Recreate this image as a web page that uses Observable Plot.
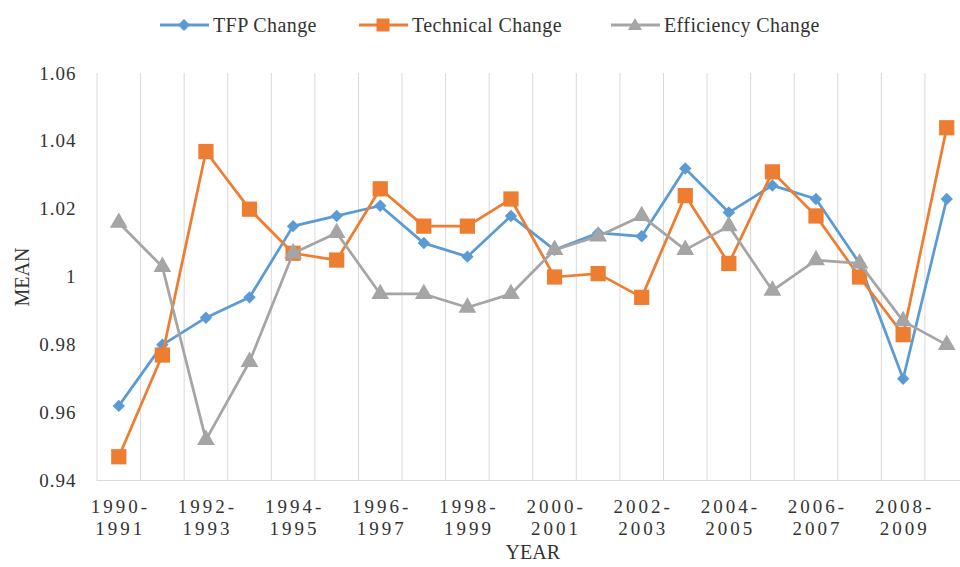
<!DOCTYPE html>
<html><head><meta charset="utf-8">
<script src="https://cdn.jsdelivr.net/npm/d3@7"></script>
<script src="https://cdn.jsdelivr.net/npm/@observablehq/plot@0.6"></script>
<style>
body{margin:0;background:#fff;font-family:"Liberation Serif",Tinos,"Times New Roman","DejaVu Serif",serif;}
#legend{position:relative;width:960px;height:48px;}
.item{position:absolute;top:1px;height:48px;display:flex;align-items:center;font-size:20px;color:#333;letter-spacing:0.4px;}
.item svg{margin-right:4px;}
svg text{font-family:"Liberation Serif",Tinos,"Times New Roman","DejaVu Serif",serif !important;}
g[aria-label="x-axis tick label"] text{letter-spacing:3px;}
g[aria-label="y-axis tick label"] text{letter-spacing:1px;}
</style></head><body>
<div id="legend"></div><div id="chart"></div>
<script>
const periods = ["1990-1991","1991-1992","1992-1993","1993-1994","1994-1995","1995-1996","1996-1997","1997-1998","1998-1999","1999-2000","2000-2001","2001-2002","2002-2003","2003-2004","2004-2005","2005-2006","2006-2007","2007-2008","2008-2009","2009-2010"];
const seriesNames = ["TFP Change","Technical Change","Efficiency Change"];
const tfpChange = [0.962,0.980,0.988,0.994,1.015,1.018,1.021,1.010,1.006,1.018,1.008,1.013,1.012,1.032,1.019,1.027,1.023,1.004,0.970,1.023];
const technicalChange = [0.947,0.977,1.037,1.020,1.007,1.005,1.026,1.015,1.015,1.023,1.000,1.001,0.994,1.024,1.004,1.031,1.018,1.000,0.983,1.044];
const efficiencyChange = [1.016,1.003,0.952,0.975,1.007,1.013,0.995,0.995,0.991,0.995,1.008,1.012,1.018,1.008,1.015,0.996,1.005,1.004,0.987,0.980];
const yTicks = [0.94,0.96,0.98,1.00,1.02,1.04,1.06];
const xTickIdx = [0,2,4,6,8,10,12,14,16,18];

const colors = ["#5B9BD5","#ED7D31","#A5A5A5"];
const symbols = ["diamond2","square","triangle"];
const radii = [5.6,8.6,6.6];
const allValues = [tfpChange, technicalChange, efficiencyChange];

const rowsOf = vals => vals.map((v,i)=>({i, v}));

const marks = [
  Plot.ruleX(d3.range(21).map(k=>k-0.5), {y1:0.94, y2:1.06, stroke:"#D9D9D9", strokeWidth:1}),
  Plot.ruleY([0.94], {x1:-0.5, x2:19.5, stroke:"#D9D9D9", strokeWidth:1}),
  Plot.axisY({ticks: yTicks, tickSize:0, tickPadding:20, fontSize:19, tickFormat: d => String(+d.toFixed(2)), label:null}),
  Plot.axisX({ticks: xTickIdx, tickSize:0, tickPadding:16, fontSize:19, lineHeight:1.2, dx:1.5, tickFormat: i => periods[i].replace("-", "-\n"), label:null}),
  Plot.text(["MEAN"], {x:-0.5, y:1.0, dx:-74.5, rotate:-90, fontSize:20, fill:"#333"}),
  Plot.text(["YEAR"], {x:9.5, y:0.94, dy:72, fontSize:20, fill:"#333"})
];
allValues.forEach((vals, s) => {
  const rows = rowsOf(vals);
  marks.push(Plot.line(rows, {x:"i", y:"v", stroke:colors[s], strokeWidth:2.75}));
  marks.push(Plot.dot(rows, {x:"i", y:"v", symbol:symbols[s], r:radii[s], fill:colors[s], stroke:"none"}));
});

const chart = Plot.plot({
  width:960, height:519,
  marginTop:25, marginBottom:87, marginLeft:96, marginRight:0,
  style:{fontFamily:"'Liberation Serif',Tinos,'Times New Roman','DejaVu Serif',serif", color:"#333", background:"white", overflow:"hidden"},
  x:{type:"linear", domain:[-0.5,19.5], range:[96.5,968]},
  y:{domain:[0.94,1.06]},
  marks
});
document.getElementById("chart").appendChild(chart);

// legend
const legendPos = [160, 359, 611];
const legend = document.getElementById("legend");
seriesNames.forEach((name, s) => {
  const div = document.createElement("div");
  div.className = "item";
  div.style.left = legendPos[s] + "px";
  let sym;
  if (s === 0) sym = `<polygon points="24,4 30,10 24,16 18,10" fill="${colors[s]}"/>`;
  else if (s === 1) sym = `<rect x="17.5" y="3.5" width="13" height="13" fill="${colors[s]}"/>`;
  else sym = `<polygon points="24,3 31,15 17,15" fill="${colors[s]}"/>`;
  div.innerHTML = `<svg width="49" height="20"><line x1="0" x2="49" y1="10" y2="10" stroke="${colors[s]}" stroke-width="3"/>${sym}</svg><span>${name}</span>`;
  legend.appendChild(div);
});
</script>
</body></html>
